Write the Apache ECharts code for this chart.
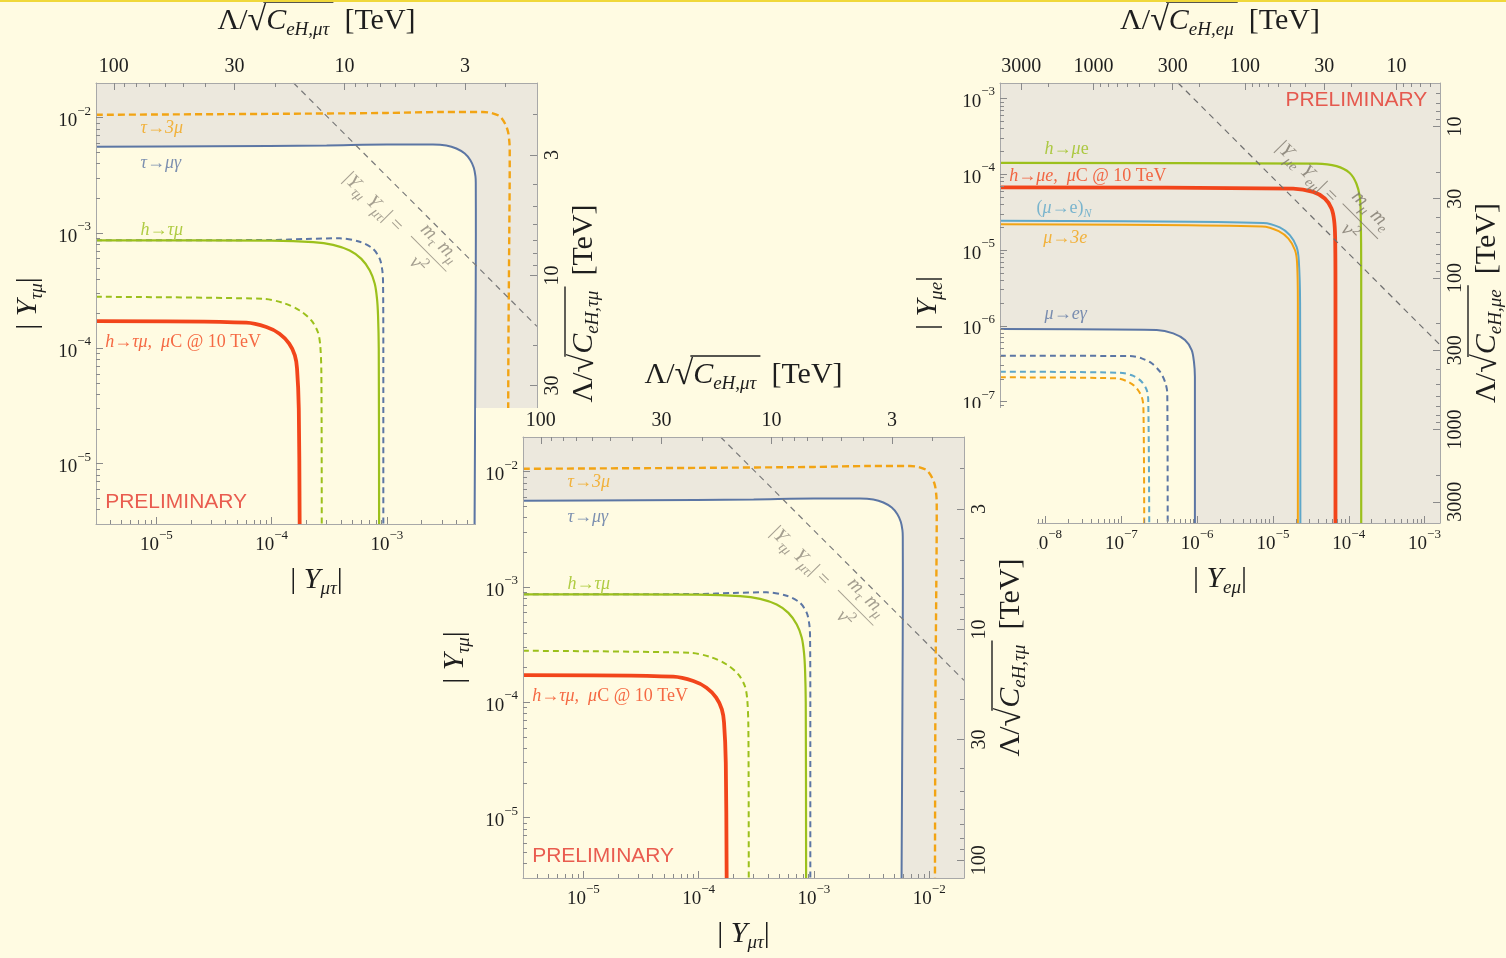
<!DOCTYPE html>
<html><head><meta charset="utf-8">
<script src="https://cdn.jsdelivr.net/npm/echarts@6/dist/echarts.min.js"></script>
<style>html,body{margin:0;padding:0;background:#fffbe2;}#c{width:1506px;height:958px;}</style>
</head><body><div id="c"></div>
<script>
// ================= DATA =================
const VEV = 0.246; // TeV, used only to place the Lambda/sqrt(C) tick labels
const TAU_RANGE = [3e-6, 0.02];
const EMU_RANGE = [2.5e-9, 1.6e-3];
const TAU_DECADES = [1e-5, 1e-4, 1e-3, 1e-2];
const EMU_DECADES = [1e-8, 1e-7, 1e-6, 1e-5, 1e-4, 1e-3];
const TAU_LAMBDA = [100, 30, 10, 3];
const TAU_LAMBDA_MINOR = [90, 80, 70, 60, 50, 40, 20, 9, 8, 7, 6, 5, 4, 2];
const EMU_LAMBDA = [3000, 1000, 300, 100, 30, 10];
const EMU_LAMBDA_MINOR = [2000, 900, 800, 700, 600, 500, 400, 200, 90, 80, 70, 60, 50, 40, 20, 9, 8, 7, 6];

// tau-mu panels: x = |Y_mu tau|, y = |Y_tau mu|
const tau3mu = [[3e-6,1.06e-2],[1e-4,1.08e-2],[1e-3,1.10e-2],[3e-3,1.12e-2],[6.8e-3,1.12e-2],[8.05e-3,1.10e-2],[9.5e-3,1.03e-2],[1.05e-2,9.0e-3],[1.12e-2,7.6e-3],[1.15e-2,6.3e-3],[1.16e-2,5.3e-3],[1.16e-2,3.8e-3],[1.15e-2,1e-3],[1.13e-2,1e-4],[1.12e-2,3e-6]];
const tauMuGamma = [[3e-6,5.6e-3],[3e-5,5.65e-3],[3e-4,5.75e-3],[1e-3,5.85e-3],[2.5e-3,5.85e-3],[3.27e-3,5.74e-3],[4.0e-3,5.41e-3],[4.73e-3,4.89e-3],[5.29e-3,4.28e-3],[5.66e-3,3.68e-3],[5.85e-3,3.12e-3],[5.89e-3,2.73e-3],[5.9e-3,1e-3],[5.85e-3,1e-4],[5.75e-3,3e-6]];
const tauMuGammaFuture = [[3e-6,8.65e-4],[1e-4,8.7e-4],[2e-4,8.9e-4],[3.89e-4,9.0e-4],[5.8e-4,8.4e-4],[7.57e-4,7.3e-4],[8.66e-4,5.97e-4],[9.12e-4,4.73e-4],[9.25e-4,3.74e-4],[9.3e-4,1e-4],[9.3e-4,3e-6]];
const hTauMu = [[3e-6,8.65e-4],[1e-4,8.6e-4],[2.29e-4,8.35e-4],[3.41e-4,7.89e-4],[4.75e-4,7.05e-4],[6.0e-4,5.97e-4],[7.1e-4,4.73e-4],[7.84e-4,3.63e-4],[8.2e-4,2.69e-4],[8.37e-4,1.93e-4],[8.49e-4,1e-4],[8.55e-4,3e-6]];
const hTauMuFuture = [[3e-6,2.8e-4],[8.4e-5,2.69e-4],[1.26e-4,2.48e-4],[1.75e-4,2.13e-4],[2.21e-4,1.75e-4],[2.52e-4,1.38e-4],[2.64e-4,1.06e-4],[2.7e-4,6e-5],[2.72e-4,3e-6]];
const hTauMuMuC = [[3e-6,1.72e-4],[6.04e-5,1.67e-4],[9.0e-5,1.53e-4],[1.17e-4,1.34e-4],[1.42e-4,1.1e-4],[1.59e-4,8.7e-5],[1.66e-4,6.7e-5],[1.72e-4,3e-5],[1.75e-4,3e-6]];
const tauNaturalness = [[1.55e-4,2e-2],[2e-2,1.55e-4]];

// e-mu panel: x = |Y_e mu|, y = |Y_mu e|
const hMuE = [[2.5e-9,1.41e-4],[3.76e-5,1.38e-4],[6.9e-5,1.28e-4],[1.03e-4,1.04e-4],[1.26e-4,7.55e-5],[1.4e-4,5.03e-5],[1.44e-4,3.03e-5],[1.46e-4,5e-6],[1.46e-4,2.5e-9]];
const hMuEMuC = [[2.5e-9,6.7e-5],[1.85e-5,6.48e-5],[3.39e-5,5.85e-5],[4.83e-5,4.79e-5],[5.92e-5,3.53e-5],[6.41e-5,2.48e-5],[6.61e-5,1.49e-5],[6.68e-5,3e-6],[6.68e-5,2.5e-9]];
const muEConv = [[2.5e-9,2.43e-5],[7.43e-6,2.28e-5],[1.23e-5,1.99e-5],[1.67e-5,1.57e-5],[2.05e-5,1.1e-5],[2.19e-5,7.35e-6],[2.28e-5,2e-6],[2.3e-5,2.5e-9]];
const mu3e = [[2.5e-9,2.19e-5],[7.2e-6,2.05e-5],[1.19e-5,1.78e-5],[1.6e-5,1.41e-5],[1.95e-5,1e-5],[2.08e-5,6.8e-6],[2.13e-5,2e-6],[2.13e-5,2.5e-9]];
const muEGamma = [[2.5e-9,9.06e-7],[2.92e-7,8.79e-7],[4.83e-7,7.96e-7],[6.9e-7,6.49e-7],[8.46e-7,4.79e-7],[9.06e-7,3.36e-7],[9.33e-7,2.13e-7],[9.33e-7,2.5e-9]];
const muEGammaFuture = [[2.5e-9,4.03e-7],[1.3e-7,3.99e-7],[1.85e-7,3.72e-7],[2.51e-7,3.2e-7],[3.23e-7,2.48e-7],[3.76e-7,1.83e-7],[4.03e-7,1.29e-7],[4.08e-7,2.5e-9]];
const muEConvFuture = [[2.5e-9,2.48e-7],[9.6e-8,2.4e-7],[1.44e-7,2.18e-7],[1.85e-7,1.83e-7],[2.16e-7,1.42e-7],[2.26e-7,1.05e-7],[2.33e-7,2.5e-9]];
const mu3eFuture = [[2.5e-9,2.09e-7],[8.7e-8,2.03e-7],[1.3e-7,1.77e-7],[1.59e-7,1.5e-7],[1.85e-7,1.16e-7],[1.95e-7,8.6e-8],[2.0e-7,2.5e-9]];
const emuNaturalness = [[5.6e-7,1.6e-3],[1.6e-3,5.6e-7]];

// annotation anchors (data coordinates)
const TAU_LABEL_AT = {tau3mu:[7.3e-6,8.1e-3], tauMuGamma:[7.3e-6,4.0e-3], hTauMu:[7.3e-6,1.05e-3], hTauMuMuC:[3.6e-6,1.13e-4], prelim:[3.6e-6,4.6e-6], relA:[7.6e-4,1.84e-3], relB:[2.3e-3,6.6e-4]};
const EMU_LABEL_AT = {hMuE:[9.7e-9,2.14e-4], hMuEMuC:[3.3e-9,9.5e-5], muEConv:[7.6e-9,3.56e-5], mu3e:[9.3e-9,1.41e-5], muEGamma:[9.7e-9,1.44e-6], prelim:[1.09e-3,9.46e-4], relA:[2.8e-5,1.06e-4], relB:[1.42e-4,2.4e-5]};

// ================= STYLE =================
const BG = '#fffbe2', SHADE = '#ece8dd', FRAME = '#a8a8a8', TICK = '#8a8a8a', INK = '#1e1e1e';
const SERIF = '"Liberation Serif","DejaVu Serif",serif';
const SANS = '"Liberation Sans","DejaVu Sans",sans-serif';
const C_OR = '#f2a414', C_BL = '#5c76a4', C_GR = '#9cc01c', C_RD = '#f2451b', C_LB = '#5ea7c9', C_REL = '#8f887c', C_PRE = '#e3342a';

const lamToY = L => VEV * VEV / (Math.SQRT2 * L * L);
const yToLam = y => VEV / Math.sqrt(Math.SQRT2 * y);
function minorDecades(lo, hi) { const o = []; for (let e = -10; e <= 0; e++) for (let k = 2; k <= 9; k++) { const v = k * Math.pow(10, e); if (v > lo && v < hi) o.push(v); } return o; }

const mctx = document.createElement('canvas').getContext('2d');
function tw(text, size, italic) { mctx.font = (italic ? 'italic ' : '') + size + 'px ' + SERIF; return mctx.measureText(text).width; }

const POW_RICH = {
  m: {fontFamily: SERIF, fontSize: 19, color: INK, lineHeight: 26, verticalAlign: 'bottom'},
  x: {fontFamily: SERIF, fontSize: 13, color: INK, lineHeight: 12, verticalAlign: 'top'}
};
const powLabel = v => '{m|10}{x|\u2212' + Math.abs(Math.round(Math.log10(v))) + '}';
const lamLabel = v => String(Math.round(yToLam(v)));

const TF = 30, TS = 19, TR = 34;
function titleRich(extra) {
  return Object.assign({
    t: {fontFamily: SERIF, fontSize: TF, color: INK, lineHeight: 36, align: 'left'},
    ti: {fontFamily: SERIF, fontSize: TF, fontStyle: 'italic', color: INK, lineHeight: 36, align: 'left'},
    rad: {fontFamily: SERIF, fontSize: TR, color: INK, lineHeight: 36, align: 'left'},
    s: {fontFamily: SERIF, fontSize: TS, fontStyle: 'italic', color: INK, lineHeight: 18, verticalAlign: 'bottom', align: 'left'}
  }, extra || {});
}
function lamTitle(sub) {
  const wLead = tw('\u039b/', TF) + tw('\u221a', TR) * 0.85;
  const wBar = tw('\u221a', TR) * 0.15 + tw('C', TF, true) + tw(sub, TS, true) + 4;
  return {
    text: '{p| }{bar| }\n{t|\u039b/}{rad|\u221a}{ti|C}{s|' + sub + '}{t|  [TeV]}',
    rich: titleRich({p: {width: wLead, height: 2, lineHeight: 2, align: 'left'}, bar: {width: wBar, height: 1.4, lineHeight: 2, backgroundColor: INK, align: 'left'}})
  };
}
function absTitle(sub) { return {text: '{t|| }{ti|Y}{s|' + sub + '}{t||}', rich: titleRich()}; }

function labelRich(color, size) {
  const b = {fontFamily: SERIF, fontSize: size, color: color, lineHeight: size + 6};
  const sub = Math.round(size * 0.68);
  return {
    r: Object.assign({}, b),
    i: Object.assign({}, b, {fontStyle: 'italic'}),
    s: Object.assign({}, b, {fontStyle: 'italic', fontSize: sub, lineHeight: sub - 2, verticalAlign: 'bottom'}),
    rc: Object.assign({}, b, {align: 'center'}),
    ic: Object.assign({}, b, {fontStyle: 'italic', align: 'center'}),
    sc: Object.assign({}, b, {fontStyle: 'italic', fontSize: sub, lineHeight: sub - 2, verticalAlign: 'bottom', align: 'center'}),
    pc: Object.assign({}, b, {fontSize: sub, lineHeight: sub - 2, verticalAlign: 'top', align: 'center'}),
    bar: {width: tw('m', size, true) * 2 + tw('\u03c4\u03bc', sub, true) + tw(' ', size) + 4, height: 1, lineHeight: 5, backgroundColor: color, align: 'center'}
  };
}

// ================= BUILD =================
const xAxes = [], yAxes = [], grids = [], series = [];

function addPanel(p) {
  const g = grids.length;
  grids.push({left: p.rect[0], top: p.rect[1], width: p.rect[2], height: p.rect[3], show: true, backgroundColor: SHADE, borderWidth: 0, z: p.z, outerBoundsMode: 'none', containLabel: false});
  const minors = minorDecades(p.range[0], p.range[1]);
  const lamY = p.lam.map(lamToY), lamMinY = p.lamMinor.map(lamToY);
  const base = {type: 'log', gridIndex: g, min: p.range[0], max: p.range[1], z: p.z + 3, splitLine: {show: false}, minorTick: {show: false}, axisPointer: {show: false}, silent: true, nameMoveOverlap: false};
  const line = {show: true, lineStyle: {color: FRAME, width: 1}};
  const major = vals => ({show: true, inside: true, length: 7, customValues: vals, lineStyle: {color: TICK, width: 1}});
  const minor = vals => ({show: true, inside: true, length: 4, customValues: vals, lineStyle: {color: TICK, width: 1}});
  const nameStyle = t => ({name: t.text, nameTextStyle: {rich: t.rich}, nameLocation: 'middle'});

  xAxes.push(Object.assign({}, base, {position: 'bottom', axisLine: line, axisTick: major(p.dec),
      axisLabel: {customValues: p.dec, formatter: powLabel, rich: POW_RICH, margin: 5}}, nameStyle(p.tBottom), {nameGap: p.gaps[0]}));
  xAxes.push(Object.assign({}, base, {position: 'bottom', axisLine: {show: false}, axisTick: minor(minors), axisLabel: {show: false}}));
  xAxes.push(Object.assign({}, base, {position: 'top', axisLine: line, axisTick: major(lamY),
      axisLabel: {customValues: lamY, formatter: lamLabel, fontFamily: SERIF, fontSize: 20, color: INK, margin: 6}}, nameStyle(p.tTop), {nameGap: p.gaps[1]}));
  xAxes.push(Object.assign({}, base, {position: 'top', axisLine: {show: false}, axisTick: minor(lamMinY), axisLabel: {show: false}}));

  yAxes.push(Object.assign({}, base, {position: 'left', axisLine: line, axisTick: major(p.dec),
      axisLabel: {customValues: p.dec, formatter: powLabel, rich: POW_RICH, margin: 5}}, nameStyle(p.tLeft), {nameGap: p.gaps[2], nameRotate: 90}));
  yAxes.push(Object.assign({}, base, {position: 'left', axisLine: {show: false}, axisTick: minor(minors), axisLabel: {show: false}}));
  yAxes.push(Object.assign({}, base, {position: 'right', axisLine: line, axisTick: major(lamY),
      axisLabel: {customValues: lamY, formatter: lamLabel, fontFamily: SERIF, fontSize: 20, color: INK, margin: 6, rotate: 90}}, nameStyle(p.tRight), {nameGap: p.gaps[3], nameRotate: 90}));
  yAxes.push(Object.assign({}, base, {position: 'right', axisLine: {show: false}, axisTick: minor(lamMinY), axisLabel: {show: false}}));

  const ax = {xAxisIndex: 4 * g, yAxisIndex: 4 * g};
  // allowed (cream) region under the strongest bound
  series.push(Object.assign({type: 'line', data: p.fill, symbol: 'none', smooth: 0.3, silent: true, clip: true, z: p.z + 1,
    lineStyle: {width: 0, opacity: 0}, areaStyle: {color: BG, opacity: 1, origin: 'start'}}, ax));
  p.curves.forEach(c => series.push(Object.assign({type: 'line', name: c.name, data: c.data, symbol: 'none', showSymbol: false,
    smooth: c.smooth == null ? 0.3 : c.smooth, silent: true, clip: true, z: p.z + 2,
    lineStyle: {color: c.color, width: c.width, type: c.dash || 'solid', cap: 'butt'}}, ax)));
  series.push(Object.assign({type: 'scatter', symbolSize: 0, silent: true, z: p.z + 4,
    data: p.labels.map(l => ({value: l.at, label: Object.assign({show: true, position: [0, 0], align: 'left', verticalAlign: 'middle',
      formatter: () => l.text, rich: l.rich}, l.opt || {})}))}, ax));
}

function tauPanel(rect, z) {
  return {
    rect, z, range: TAU_RANGE, dec: TAU_DECADES, lam: TAU_LAMBDA, lamMinor: TAU_LAMBDA_MINOR,
    tBottom: absTitle('\u03bc\u03c4'), tLeft: absTitle('\u03c4\u03bc'), tTop: lamTitle('eH,\u03bc\u03c4'), tRight: lamTitle('eH,\u03c4\u03bc'),
    gaps: [38, 44, 50, 27], fill: tauMuGamma,
    curves: [
      {name: '\u03c4\u21923\u03bc', data: tau3mu, color: C_OR, width: 2.4, dash: [7, 4]},
      {name: '\u03c4\u2192\u03bc\u03b3 (future)', data: tauMuGammaFuture, color: C_BL, width: 2, dash: [6, 4]},
      {name: 'h\u2192\u03c4\u03bc', data: hTauMu, color: C_GR, width: 2.2},
      {name: 'h\u2192\u03c4\u03bc (future)', data: hTauMuFuture, color: C_GR, width: 2, dash: [6, 4]},
      {name: '\u03c4\u2192\u03bc\u03b3', data: tauMuGamma, color: C_BL, width: 2},
      {name: 'h\u2192\u03c4\u03bc, \u03bcC @ 10 TeV', data: hTauMuMuC, color: C_RD, width: 3.8},
      {name: 'naturalness', data: tauNaturalness, color: '#7a7a7a', width: 1.2, dash: [6, 5], smooth: false}
    ],
    labels: [
      {at: TAU_LABEL_AT.tau3mu, text: '{i|\u03c4}{r|\u2192}{i|3\u03bc}', rich: labelRich(C_OR, 18)},
      {at: TAU_LABEL_AT.tauMuGamma, text: '{i|\u03c4}{r|\u2192}{i|\u03bc\u03b3}', rich: labelRich(C_BL, 18)},
      {at: TAU_LABEL_AT.hTauMu, text: '{i|h}{r|\u2192}{i|\u03c4\u03bc}', rich: labelRich(C_GR, 18)},
      {at: TAU_LABEL_AT.hTauMuMuC, text: '{i|h}{r|\u2192}{i|\u03c4\u03bc,}{r|  }{i|\u03bc}{r|C @ 10 TeV}', rich: labelRich(C_RD, 18)},
      {at: TAU_LABEL_AT.prelim, text: 'PRELIMINARY', opt: {fontFamily: SANS, fontSize: 21, color: C_PRE}},
      {at: TAU_LABEL_AT.relA, text: '{r||}{i|Y}{s|\u03c4\u03bc}{r| }{i|Y}{s|\u03bc\u03c4}{r|| =}', rich: labelRich(C_REL, 20), opt: {rotate: -45, align: 'center'}},
      {at: TAU_LABEL_AT.relB, text: '{ic|m}{sc|\u03c4}{rc| }{ic|m}{sc|\u03bc}\n{bar| }\n{ic|v}{pc|2}', rich: labelRich(C_REL, 20), opt: {rotate: -45, align: 'center'}}
    ]
  };
}

addPanel(tauPanel([96, 83, 441, 441], 0));
addPanel({
  rect: [1000, 83, 440, 440], z: 0, range: EMU_RANGE, dec: EMU_DECADES, lam: EMU_LAMBDA, lamMinor: EMU_LAMBDA_MINOR,
  tBottom: absTitle('e\u03bc'), tLeft: absTitle('\u03bce'), tTop: lamTitle('eH,e\u03bc'), tRight: lamTitle('eH,\u03bce'),
  gaps: [38, 44, 54, 27], fill: muEGamma,
  curves: [
    {name: 'h\u2192\u03bce', data: hMuE, color: C_GR, width: 2.2},
    {name: 'h\u2192\u03bce, \u03bcC @ 10 TeV', data: hMuEMuC, color: C_RD, width: 3.8},
    {name: '(\u03bc\u2192e)N', data: muEConv, color: C_LB, width: 2},
    {name: '\u03bc\u21923e', data: mu3e, color: C_OR, width: 2},
    {name: '\u03bc\u2192e\u03b3', data: muEGamma, color: C_BL, width: 2},
    {name: '\u03bc\u2192e\u03b3 (future)', data: muEGammaFuture, color: C_BL, width: 2, dash: [6, 4]},
    {name: '(\u03bc\u2192e)N (future)', data: muEConvFuture, color: C_LB, width: 2, dash: [6, 4]},
    {name: '\u03bc\u21923e (future)', data: mu3eFuture, color: C_OR, width: 2, dash: [6, 4]},
    {name: 'naturalness', data: emuNaturalness, color: '#6f6f6f', width: 1.2, dash: [6, 5], smooth: false}
  ],
  labels: [
    {at: EMU_LABEL_AT.hMuE, text: '{i|h}{r|\u2192}{i|\u03bc}{r|e}', rich: labelRich(C_GR, 18)},
    {at: EMU_LABEL_AT.hMuEMuC, text: '{i|h}{r|\u2192}{i|\u03bce,}{r|  }{i|\u03bc}{r|C @ 10 TeV}', rich: labelRich(C_RD, 18)},
    {at: EMU_LABEL_AT.muEConv, text: '{r|(}{i|\u03bc}{r|\u2192e)}{s|N}', rich: labelRich(C_LB, 18)},
    {at: EMU_LABEL_AT.mu3e, text: '{i|\u03bc}{r|\u2192}{i|3e}', rich: labelRich(C_OR, 18)},
    {at: EMU_LABEL_AT.muEGamma, text: '{i|\u03bc}{r|\u2192}{i|e\u03b3}', rich: labelRich(C_BL, 18)},
    {at: EMU_LABEL_AT.prelim, text: 'PRELIMINARY', opt: {fontFamily: SANS, fontSize: 21, color: C_PRE, align: 'right'}},
    {at: EMU_LABEL_AT.relA, text: '{r||}{i|Y}{s|\u03bce}{r| }{i|Y}{s|e\u03bc}{r|| =}', rich: labelRich('#7d776c', 20), opt: {rotate: -45, align: 'center'}},
    {at: EMU_LABEL_AT.relB, text: '{ic|m}{sc|\u03bc}{rc| }{ic|m}{sc|e}\n{bar| }\n{ic|v}{pc|2}', rich: labelRich('#7d776c', 20), opt: {rotate: -45, align: 'center'}}
  ]
});
addPanel(tauPanel([523, 437, 441, 441], 11));

const chart = echarts.init(document.getElementById('c'), null, {renderer: 'canvas'});
chart.setOption({
  backgroundColor: BG,
  animation: false,
  grid: grids,
  xAxis: xAxes,
  yAxis: yAxes,
  series: series,
  graphic: [
    {type: 'rect', shape: {x: 476, y: 408, width: 561, height: 550}, style: {fill: BG}, z: 10, silent: true},
    {type: 'rect', shape: {x: 0, y: 0, width: 1506, height: 2}, style: {fill: '#f0d83a'}, z: 100, silent: true}
  ]
});
</script></body></html>
